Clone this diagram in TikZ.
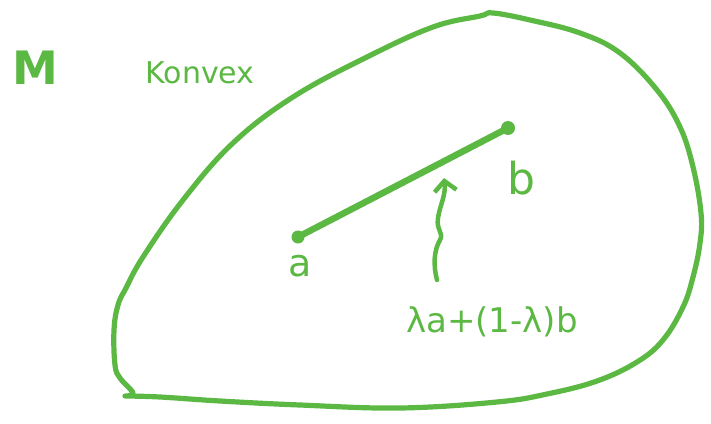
\documentclass[tikz,border=0pt]{standalone}
\usepackage{fontspec}
\setmainfont{DejaVu Sans}
\usepackage{tikz}
\usetikzlibrary{arrows.meta,calc,positioning}
\definecolor{penGreen}{HTML}{5BB843}

\begin{document}
\begin{tikzpicture}[
  x=1pt,y=-1pt,
  >=Stealth,
  pen/.style={draw=penGreen,line width=5.2pt,line cap=round,line join=round},
  dot/.style={circle,fill=penGreen,inner sep=0pt,minimum size=13pt},
  hand/.style={text=penGreen,inner sep=0pt}
]
\useasboundingbox (0,0) rectangle (711,423);

% the convex set M
\draw[pen] plot[smooth,tension=0.65] coordinates {
  (125,396) (133,393) (120,378) (115,365) (114,330) (118,305)
  (126,288) (143,257) (183,200) (233,143) (293,97) (367,57)
  (433,27) (480,16) (493,13) (530,20) (580,33) (620,53)
  (657,90) (680,127) (693,167) (701,213) (700,243) (693,277)
  (683,307) (663,340) (637,362) (597,381) (547,394) (497,402)
  (400,408) (300,405) (220,401) (160,397) (125,396)};

\node[hand,font=\bfseries\fontsize{46}{46}\selectfont] (setM) at (35,68) {M};
\node[hand,font=\fontsize{30}{30}\selectfont] (konvex) at (200,73) {Konvex};

% segment from a to b
\node[dot] (ptA) at (298,237) {};
\node[dot,minimum size=14pt] (ptB) at (508,128) {};
\draw[pen,line width=6.5pt] (ptA.center) -- (ptB.center);
\node[hand,font=\fontsize{38}{38}\selectfont] (labA) at (300,266) {a};
\node[hand,font=\fontsize{44}{44}\selectfont] (labB) at (521,178) {b};

% point on the segment
\node[hand,font=\fontsize{34}{34}\selectfont] (conv) at (492,322) {λa+(1-λ)b};
\coordinate (tipC) at (444,178);
\draw[pen,line width=4.5pt,->,>={Straight Barb[length=10pt,width=22pt]}]
  (437,280) .. controls (433,265) and (434,250) .. (440,240)
  .. controls (444,233) and (436,230) .. (438,218)
  .. controls (440,205) and (446,195) .. (tipC);
\end{tikzpicture}
\end{document}
